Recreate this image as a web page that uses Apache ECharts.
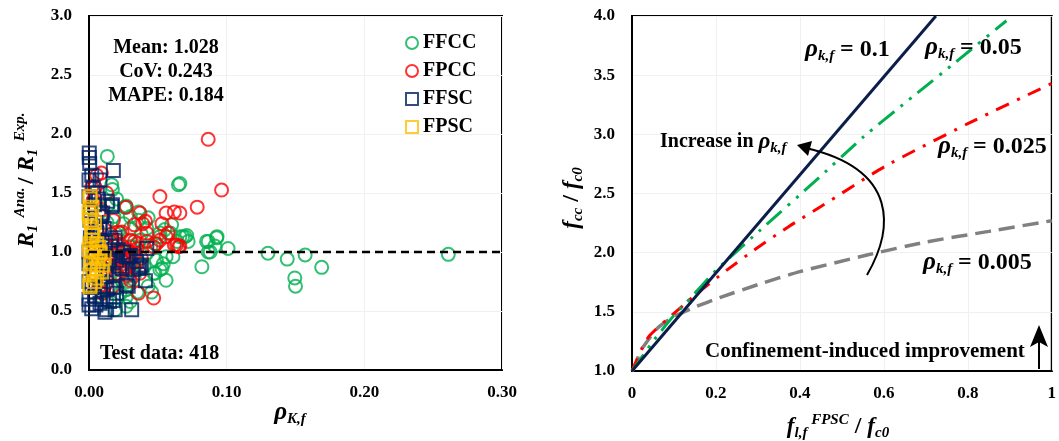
<!DOCTYPE html>
<html>
<head>
<meta charset="utf-8">
<script src="https://cdn.jsdelivr.net/npm/echarts@6/dist/echarts.min.js"></script>
<style>
  html, body { margin: 0; padding: 0; background: #fff; }
  #main { width: 1059px; height: 441px; }
</style>
</head>
<body>
<div id="main"></div>
<script>
// ---- left chart: R1 Ana./Exp. vs rho_K,f ----
const ffccPts = [
  [0.0133,1.81],[0.0165,1.57],[0.017,1.53],[0.065,1.57],[0.066,1.58],
  [0.027,1.39],[0.036,1.34],[0.043,1.29],[0.036,1.27],[0.030,1.20],[0.042,1.20],[0.021,1.17],
  [0.0515,1.16],[0.060,1.23],[0.059,1.16],[0.068,1.13],[0.071,1.14],[0.064,1.09],[0.0697,1.13],[0.072,1.09],
  [0.0854,1.09],[0.0927,1.12],[0.0914,1.05],[0.0866,1.00],[0.101,1.03],[0.130,0.99],[0.144,0.94],
  [0.157,0.975],[0.1495,0.78],[0.150,0.71],[0.169,0.87],[0.261,0.98],[0.082,0.875],[0.0866,1.09],
  [0.088,1.0],[0.093,1.13],[0.061,0.96],[0.054,0.90],[0.0515,0.85],[0.056,0.76],[0.047,0.82],
  [0.0455,0.66],[0.042,0.99],[0.035,0.93],[0.027,0.96],[0.024,0.76],[0.027,0.62],[0.019,0.51],
  [0.015,0.82],[0.037,1.10],[0.048,1.07],[0.030,1.045],[0.0128,0.59],[0.010,0.66],
  [0.026,1.38],[0.030,1.30],[0.025,1.24],[0.055,1.19],[0.066,1.13],[0.0515,1.13],[0.032,1.045],
  [0.056,0.96],[0.049,0.93],[0.053,0.86],[0.048,0.82],[0.043,0.71],[0.027,0.68],[0.0225,0.65],
  [0.035,0.66],[0.027,0.54],[0.012,1.05],[0.018,0.98],[0.022,1.1],[0.016,0.7],[0.02,0.88],
  [0.024,1.02],[0.013,1.25],[0.018,1.3],[0.02,1.45],[0.014,1.4],[0.04,0.88],[0.038,1.15],
  [0.045,1.05],[0.033,0.8],[0.028,0.75],[0.03,0.58]
];
const fpccPts = [
  [0.0866,1.955],[0.0963,1.525],[0.0515,1.47],[0.0786,1.38],[0.062,1.34],[0.056,1.33],[0.066,1.33],
  [0.027,1.38],[0.037,1.33],[0.041,1.26],[0.033,1.23],[0.053,1.24],[0.039,1.24],[0.0575,1.16],
  [0.056,1.13],[0.062,1.06],[0.065,1.045],[0.066,1.05],[0.0636,1.06],[0.024,1.17],[0.030,1.10],
  [0.035,1.07],[0.042,1.09],[0.047,1.045],[0.0515,1.10],[0.020,1.10],[0.049,1.07],[0.033,1.09],
  [0.0225,1.16],[0.042,1.16],[0.037,0.82],[0.036,0.65],[0.047,0.61],[0.0056,1.65],[0.009,1.67],
  [0.0044,1.55],[0.002,1.55],[0.003,1.44],[0.0128,1.50],[0.009,1.36],[0.0177,1.27],[0.021,1.0],
  [0.024,0.93],[0.027,0.875],[0.015,0.89],[0.030,0.76],[0.0177,0.71],[0.010,0.65],[0.0225,0.85],
  [0.012,1.0],[0.015,0.95],[0.018,1.05],[0.02,0.9],[0.022,1.0],[0.025,0.95],[0.028,1.02],[0.03,0.9],
  [0.032,0.98],[0.035,1.03],[0.038,0.95],[0.02,0.82],[0.026,0.85],[0.014,0.88],[0.01,1.1],[0.008,0.95],
  [0.006,1.2],[0.009,1.3],[0.005,0.8],[0.012,0.72],[0.016,1.15],[0.028,0.8],[0.033,0.87],[0.004,1.05],[0.007,0.7],
  [0.019,0.97],[0.024,1.05],[0.029,0.93],[0.034,0.99],[0.017,0.92]
];
const ffscPts = [
  [0.0002,1.84],[0.0002,1.80],[0.0005,1.75],[0.0177,1.69],[0.008,1.61],[0.0133,1.43],[0.017,1.40],
  [0.004,1.40],[0.010,1.33],[0.0165,1.10],[0.042,1.03],[0.0346,0.92],[0.037,0.875],[0.041,0.757],
  [0.027,0.72],[0.031,0.51],[0.019,0.51],[0.0128,0.51],[0.0,0.55],[0.005,0.55],[0.015,0.58],
  [0.020,0.65],[0.008,0.706],[0.0128,0.79],[0.003,0.82],[0.020,0.93],[0.027,0.96],[0.009,1.02],
  [0.0056,1.16],[0.008,1.21],[0.0007,1.27],[0.0,1.47],[0.0,1.61],[0.003,1.55],
  [0.0165,1.385],[0.0285,0.96],[0.038,0.89],[0.036,0.86],[0.024,0.86],[0.0285,0.71],[0.0177,0.706],
  [0.0116,0.49],[0.002,0.52],[0.008,0.565],[0.0177,0.59],[0.019,1.12],[0.021,1.02],[0.015,0.93],
  [0.008,1.19],[0.009,1.30],[0.0,0.6],[0.002,0.7],[0.004,0.8],[0.006,0.9],[0.0,1.0],[0.003,1.1],
  [0.005,1.25],[0.001,1.35],[0.007,1.45],[0.002,1.65],[0.01,0.75],[0.012,0.85],[0.014,0.95],
  [0.016,1.05],[0.011,1.2],[0.006,1.5],[0.004,0.62],[0.01,0.6],[0.013,0.68],[0.018,0.8],[0.022,0.88],
  [0.025,1.0],[0.03,0.97],[0.032,0.85],[0.012,1.08],[0.0,0.9],[0.001,1.12],[0.0,0.75],[0.003,0.96]
];
const fpscPts = [
  [0.0007,1.47],[0.0007,1.45],[0.0007,1.30],[0.002,1.21],[0.003,1.14],[0.0007,1.07],[0.0056,1.07],
  [0.003,1.0],[0.008,1.0],[0.002,0.95],[0.0067,0.92],[0.010,0.89],[0.003,0.847],[0.009,0.83],
  [0.0007,0.805],[0.0007,0.706],[0.0056,0.78],[0.0007,1.27],[0.002,1.16],[0.0,1.02],[0.008,0.99],
  [0.0007,0.72],[0.004,1.25],[0.006,0.86],[0.001,0.9],[0.005,0.96],[0.002,1.1],[0.007,1.04],
  [0.011,0.95],[0.004,0.75],[0.0,1.33],[0.002,1.38]
];
const refLine = [[0, 1], [0.30, 1]];

// ---- right chart: fcc/fc0 vs fl,f/fc0 ----
const rho0005 = [[0,1],[0.01,1.06],[0.018,1.16],[0.03,1.22],[0.06,1.36],[0.1,1.46],[0.15,1.54],[0.209,1.62],
  [0.3,1.73],[0.4,1.84],[0.56,1.98],[0.7,2.09],[0.85,2.18],[1.0,2.27]];
const rho0025 = [[0,1],[0.012,1.1],[0.024,1.19],[0.042,1.30],[0.085,1.44],[0.15,1.64],[0.225,1.85],
  [0.298,2.04],[0.373,2.22],[0.45,2.39],[0.603,2.73],[0.8,3.09],[1.0,3.43]];
const rho005 = [[0,1],[0.05,1.25],[0.1,1.47],[0.13,1.58],[0.2,1.85],[0.318,2.23],[0.435,2.6],
  [0.552,2.98],[0.673,3.33],[0.771,3.61],[0.892,3.96]];
const rho01 = [[0,1],[0.724,4.0]];

const F = 'Liberation Serif';
const axisLbl = { color: '#000', fontFamily: F, fontWeight: 'bold', fontSize: 17 };
const gridLine = { show: true, lineStyle: { color: '#f0f0f0', width: 1 } };

function hollow(color, symbol) {
  return { type: 'scatter', symbol: symbol, symbolSize: 13,
    xAxisIndex: 0, yAxisIndex: 0,
    itemStyle: { color: 'rgba(0,0,0,0)', borderColor: color, borderWidth: 2 } };
}

// rich text pieces
const rich = {
  g: { fontFamily: F, fontSize: 25, fontWeight: 'bold', fontStyle: 'italic', fill: '#000', lineHeight: 28 },
  s: { fontFamily: F, fontSize: 15, fontWeight: 'bold', fontStyle: 'italic', fill: '#000', lineHeight: 15, verticalAlign: 'bottom' },
  u: { fontFamily: F, fontSize: 15, fontWeight: 'bold', fontStyle: 'italic', fill: '#000', lineHeight: 14, verticalAlign: 'top' },
  n: { fontFamily: F, fontSize: 24, fontWeight: 'bold', fill: '#000', lineHeight: 28 },
  t: { fontFamily: F, fontSize: 20, fontWeight: 'bold', fill: '#000', lineHeight: 28 },
  r: { fontFamily: F, fontSize: 23, fontWeight: 'bold', fontStyle: 'italic', fill: '#000', lineHeight: 28 }
};

function txt(x, y, text, align, rot) {
  return { type: 'text', x: x, y: y, rotation: rot || 0, z: 100,
    style: { text: text, rich: rich, align: align || 'left', verticalAlign: 'middle' } };
}
function plain(x, y, text, align, size) {
  return { type: 'text', x: x, y: y, z: 100,
    style: { text: text, fill: '#000', font: 'bold ' + (size || 20) + 'px "Liberation Serif"', align: align || 'left', verticalAlign: 'middle' } };
}

const chart = echarts.init(document.getElementById('main'));
chart.setOption({
  animation: false,
  backgroundColor: '#fff',
  grid: [
    { left: 89, top: 16, width: 413, height: 354, show: true, borderColor: '#000', borderWidth: 2 },
    { left: 632, top: 16, width: 426, height: 355, show: true, borderColor: '#000', borderWidth: 2 }
  ],
  xAxis: [
    { gridIndex: 0, type: 'value', min: 0, max: 0.3, interval: 0.1,
      axisLine: { lineStyle: { color: '#000', width: 2 } }, axisTick: { show: false },
      axisLabel: Object.assign({ margin: 14, formatter: v => v.toFixed(2) }, axisLbl), splitLine: gridLine },
    { gridIndex: 1, type: 'value', min: 0, max: 1, interval: 0.2,
      axisLine: { lineStyle: { color: '#000', width: 2 } }, axisTick: { show: false },
      axisLabel: Object.assign({ margin: 14, formatter: v => (v === 0 ? '0' : v === 1 ? '1' : v.toFixed(1)) }, axisLbl), splitLine: gridLine }
  ],
  yAxis: [
    { gridIndex: 0, type: 'value', min: 0, max: 3, interval: 0.5,
      axisLine: { lineStyle: { color: '#000', width: 2 } }, axisTick: { show: false },
      axisLabel: Object.assign({ margin: 17, formatter: v => v.toFixed(1) }, axisLbl), splitLine: gridLine },
    { gridIndex: 1, type: 'value', min: 1, max: 4, interval: 0.5,
      axisLine: { lineStyle: { color: '#000', width: 2 } }, axisTick: { show: false },
      axisLabel: Object.assign({ margin: 17, formatter: v => v.toFixed(1) }, axisLbl), splitLine: gridLine }
  ],
  legend: {
    data: ['FFCC', 'FPCC', 'FFSC', 'FPSC'],
    orient: 'vertical', left: 400, top: 28, itemGap: 8, itemWidth: 12, itemHeight: 12,
    textStyle: { color: '#000', fontFamily: F, fontWeight: 'bold', fontSize: 20 }
  },
  series: [
    { type: 'line', xAxisIndex: 0, yAxisIndex: 0, data: refLine, symbol: 'none', silent: true,
      lineStyle: { color: '#000', width: 2.5, type: [8, 5] } },
    Object.assign({ name: 'FFCC', data: ffccPts }, hollow('#00b050', 'circle')),
    Object.assign({ name: 'FPCC', data: fpccPts }, hollow('#ff0000', 'circle')),
    Object.assign({ name: 'FFSC', data: ffscPts }, hollow('#002060', 'rect')),
    Object.assign({ name: 'FPSC', data: fpscPts }, hollow('#ffc000', 'rect')),

    { type: 'line', xAxisIndex: 1, yAxisIndex: 1, data: rho0005, symbol: 'none', smooth: 0.2,
      lineStyle: { color: '#808080', width: 3.5, type: [16, 8] } },
    { type: 'line', xAxisIndex: 1, yAxisIndex: 1, data: rho0025, symbol: 'none', smooth: 0.2,
      lineStyle: { color: '#ff0000', width: 3, type: [14, 9, 3, 9] } },
    { type: 'line', xAxisIndex: 1, yAxisIndex: 1, data: rho005, symbol: 'none', smooth: 0.2,
      lineStyle: { color: '#00b050', width: 3, type: [20, 8, 3, 8, 3, 8] } },
    { type: 'line', xAxisIndex: 1, yAxisIndex: 1, data: rho01, symbol: 'none',
      lineStyle: { color: '#0b1e4a', width: 3 } }
  ],
  graphic: [
    // left annotations
    plain(166, 48, 'Mean: 1.028', 'center'),
    plain(166, 72, 'CoV: 0.243', 'center'),
    plain(166, 96, 'MAPE: 0.184', 'center'),
    plain(100, 354, 'Test data: 418'),
    txt(27, 180, '{r|R}{s|1}{u|  Ana.} {n|/ }{r|R}{s|1}{u|  Exp.}', 'center', Math.PI / 2),
    txt(290, 413, '{g|ρ}{s|K,f}', 'center'),
    // right annotations
    txt(805, 50, '{g|ρ}{s|k,f}{n| = 0.1}'),
    txt(925, 48, '{g|ρ}{s|k,f}{n| = 0.05}'),
    txt(938, 147, '{g|ρ}{s|k,f}{n| = 0.025}'),
    txt(923, 263, '{g|ρ}{s|k,f}{n| = 0.005}'),
    txt(660, 142, '{t|Increase in }{r|ρ}{s|k,f}'),
    plain(705, 352, 'Confinement-induced improvement', 'left', 21),
    txt(572, 198, '{r|f}{s|cc}{n| / }{r|f}{s|c0}', 'center', Math.PI / 2),
    txt(838, 427, '{r|f}{s|l,f}{u| FPSC}{n| / }{r|f}{s|c0}', 'center'),
    // curved arrow
    { type: 'bezierCurve', z: 100,
      shape: { x1: 867, y1: 275, cpx1: 893, cpy1: 230, cpx2: 900, cpy2: 170, x2: 806, y2: 148 },
      style: { stroke: '#000', lineWidth: 2, fill: null } },
    { type: 'polygon', z: 100,
      shape: { points: [[797, 145], [812, 141], [808, 156]] }, style: { fill: '#000' } },
    // up arrow
    { type: 'line', z: 100, shape: { x1: 1039, y1: 369, x2: 1039, y2: 342 }, style: { stroke: '#000', lineWidth: 2 } },
    { type: 'polygon', z: 100,
      shape: { points: [[1039, 325], [1030, 347], [1039, 342], [1048, 347]] }, style: { fill: '#000' } }
  ]
});
</script>
</body>
</html>
